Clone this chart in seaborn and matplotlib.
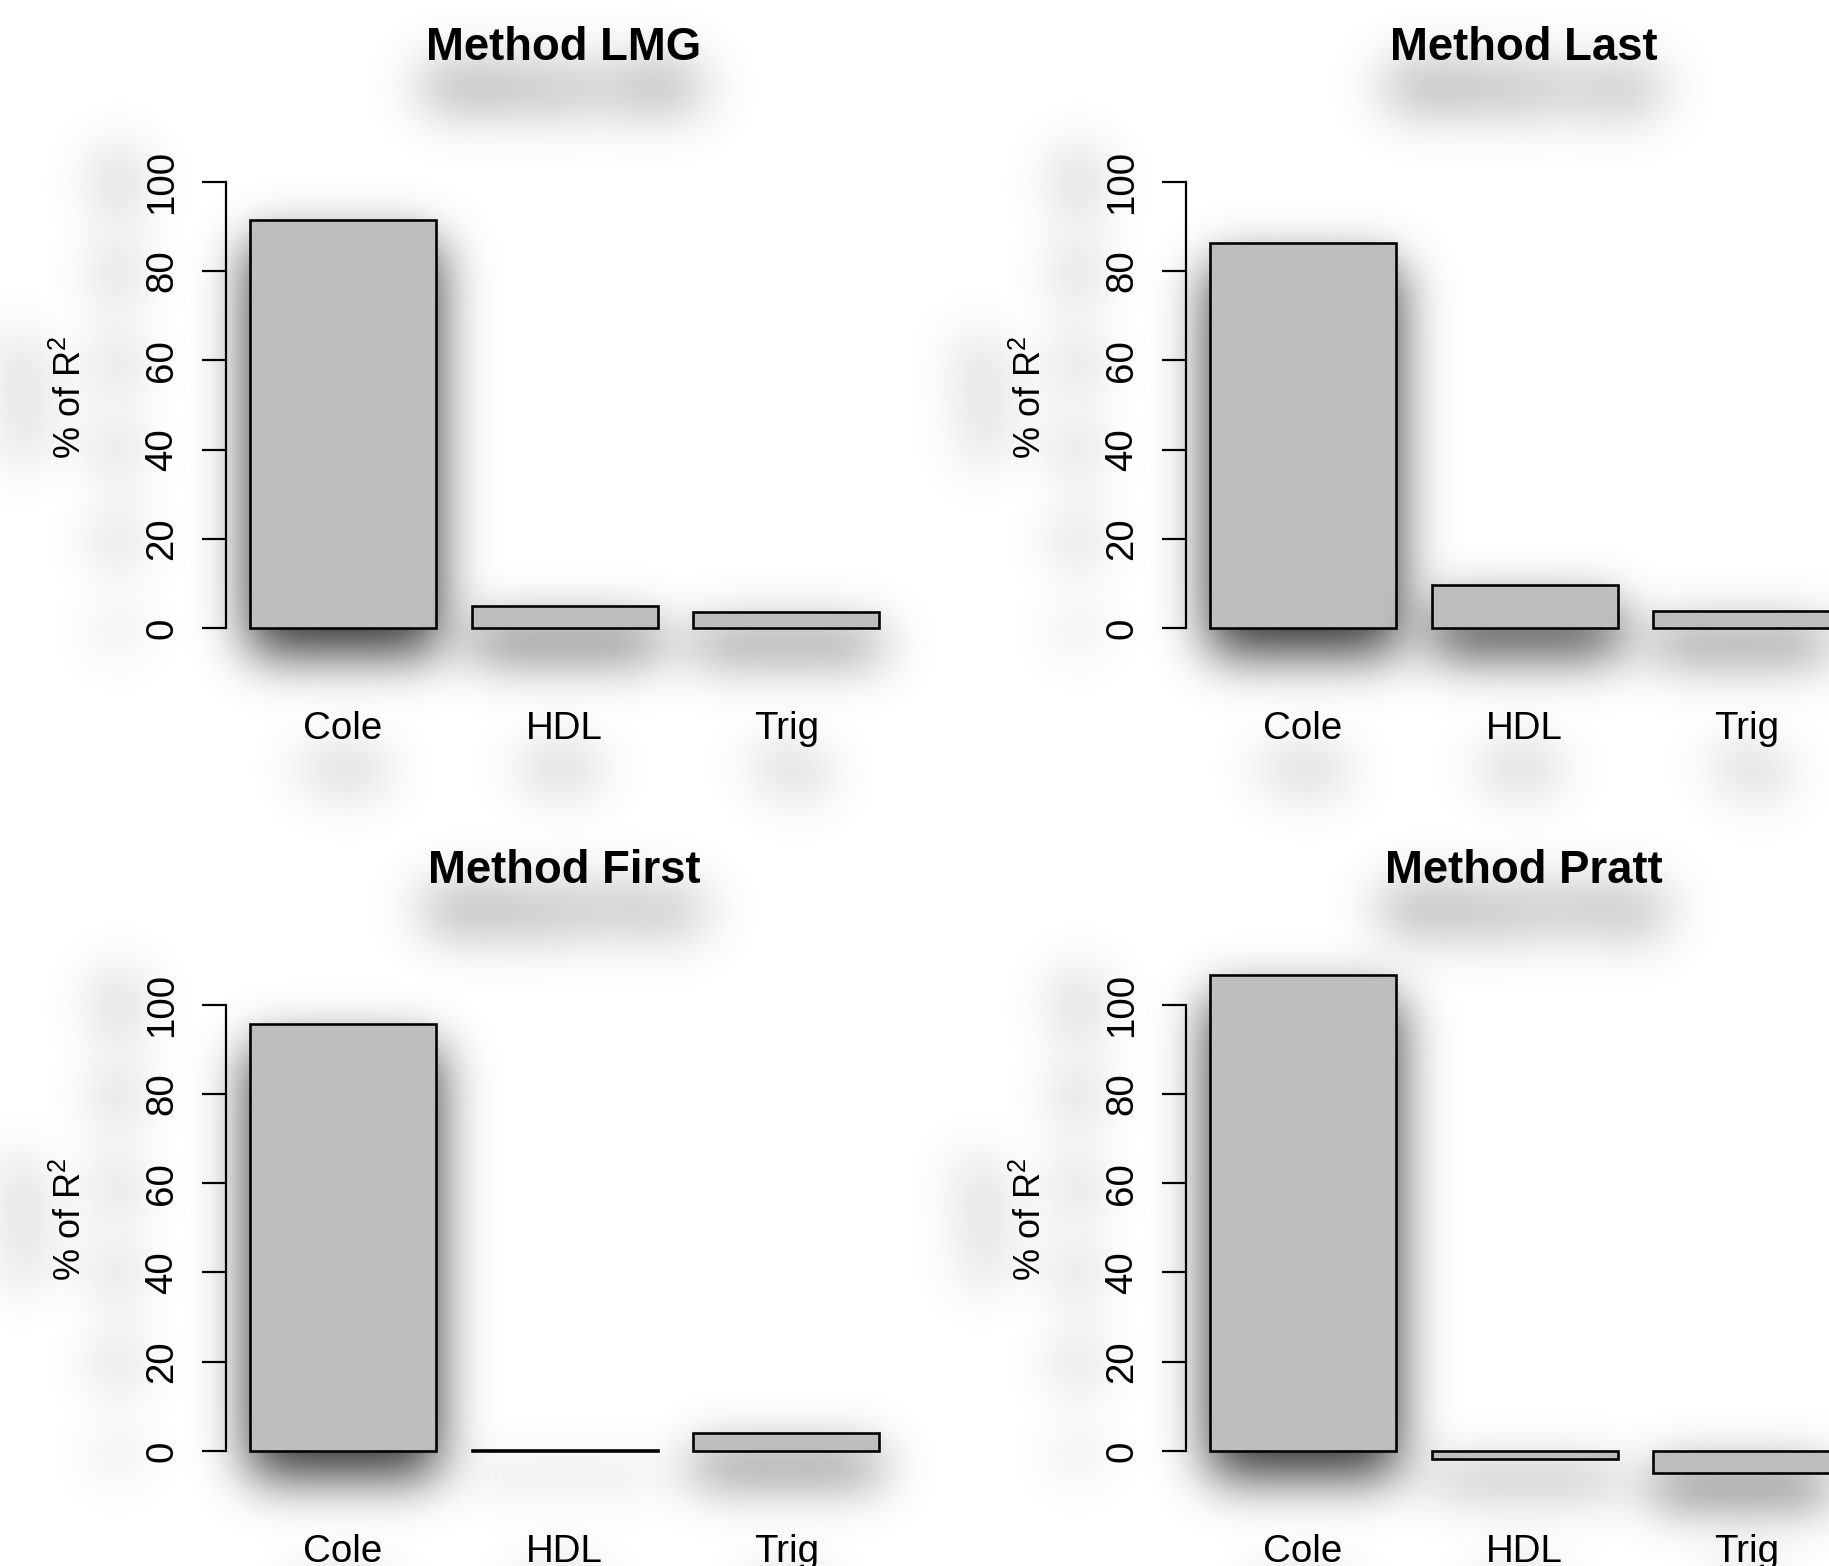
import numpy as np
import matplotlib
matplotlib.use("Agg")
import matplotlib.pyplot as plt
import seaborn as sns

# ---------------- data ----------------
methods = ["LMG", "Last", "First", "Pratt"]
categories = ["Cole", "HDL", "Trig"]
lmg = [91.4, 4.9, 3.7]
last = [86.2, 9.8, 3.8]
first = [95.6, 0.2, 4.0]
pratt = [106.5, -1.7, -4.9]
yticks = [0, 20, 40, 60, 80, 100]
ylabel_text = "% of R$^2$"

values = {"LMG": lmg, "Last": last, "First": first, "Pratt": pratt}

# ---------------- style ----------------
sns.set_theme(style="white")
plt.rcParams['font.family'] = ['Liberation Sans', 'DejaVu Sans']
plt.rcParams['mathtext.fontset'] = 'custom'
plt.rcParams['mathtext.rm'] = 'Liberation Sans'
plt.rcParams['mathtext.it'] = 'Liberation Sans'
plt.rcParams['mathtext.bf'] = 'Liberation Sans:bold'
plt.rcParams['mathtext.default'] = 'regular'


# ---------------- soft drop shadow (agg filter) ----------------
def _blur1d(a, w, axis):
    r = (len(w) - 1) // 2
    n = a.shape[axis]
    pad = [(0, 0)] * a.ndim
    pad[axis] = (r, r)
    p = np.pad(a, pad)
    out = np.zeros_like(a)
    for i, wi in enumerate(w):
        sl = [slice(None)] * a.ndim
        sl[axis] = slice(i, i + n)
        out += wi * p[tuple(sl)]
    return out


def _gblur(a, sigma):
    r = int(3 * sigma)
    x = np.arange(-r, r + 1)
    w = np.exp(-x ** 2 / (2.0 * sigma ** 2))
    w /= w.sum()
    return _blur1d(_blur1d(a, w, 0), w, 1)


class Shadow:
    def __init__(self, dx, dy, sigma, alpha, color=(0, 0, 0)):
        self.dx, self.dy, self.sigma, self.alpha = int(dx), int(dy), sigma, alpha
        self.color = np.array(color, dtype=float)

    def __call__(self, im, dpi):
        pad = int(abs(self.dx) + abs(self.dy) + 3 * self.sigma + 4)
        h, w = im.shape[:2]
        P = np.zeros((h + 2 * pad, w + 2 * pad, 4))
        P[pad:pad + h, pad:pad + w] = im
        a = P[..., 3]
        s = np.roll(a, (self.dy, self.dx), axis=(0, 1))
        s = np.clip(_gblur(s, self.sigma) * self.alpha, 0, 1)
        out_a = a + s * (1 - a)
        rgb = P[..., :3] * a[..., None] + self.color * (s * (1 - a))[..., None]
        rgb = rgb / np.maximum(out_a, 1e-9)[..., None]
        out = np.dstack([rgb, out_a])
        return np.clip(out, 0, 1), -pad, -pad


# ---------------- layout ----------------
W, H, DPI = 1829, 1566, 72
fig = plt.figure(figsize=(W / DPI, H / DPI), dpi=DPI, facecolor='white')

col_dx = 960
row_dy = 822.7
ax_left, ax_right = 226, 902
ax_top, ax_bottom = 130, 690
xlim = (-0.5277, 2.521)
ylim = (-13.8, 111.6)

bar_color = "#BEBEBE"
tick_fs = 38.5
title_fs = 45.5
ylab_fs = 36

bar_shadow = dict(dx=0, dy=24, sigma=26, alpha=0.8)
title_shadow = dict(dx=0, dy=42, sigma=28, alpha=0.95)
text_shadow_h = dict(dx=0, dy=42, sigma=28, alpha=1.0)
text_shadow_v = dict(dx=-42, dy=0, sigma=28, alpha=1.0)

for idx, m in enumerate(methods):
    r, c = divmod(idx, 2)
    L = ax_left + c * col_dx
    R = ax_right + c * col_dx
    T = ax_top + r * row_dy
    B = ax_bottom + r * row_dy
    ax = fig.add_axes([L / W, 1 - B / H, (R - L) / W, (B - T) / H])
    ax.set_facecolor('none')

    sns.barplot(x=categories, y=values[m], ax=ax, color=bar_color,
                edgecolor='black', linewidth=2.6, width=0.839,
                saturation=1, errorbar=None, zorder=2)

    ax.set_xlim(*xlim)
    ax.set_ylim(*ylim)
    sns.despine(ax=ax, top=True, right=True, bottom=True, left=False)
    ax.spines['left'].set_bounds(0, 100)
    ax.spines['left'].set_linewidth(2.2)
    ax.spines['left'].set_color('black')

    ax.set_yticks(yticks)
    ax.set_yticklabels([str(t) for t in yticks], rotation=90, va='center')
    ax.tick_params(axis='y', length=24, width=2.2, pad=22, labelsize=tick_fs,
                   colors='black', left=True)
    ax.tick_params(axis='x', length=0, pad=21, labelsize=tick_fs, colors='black')
    ax.set_xlabel('')
    ax.set_ylabel(ylabel_text, fontsize=ylab_fs, color='black')
    ax.yaxis.set_label_coords(-0.202, 0.523)
    ax.set_title(f"Method {m}", fontsize=title_fs, fontweight='bold',
                 pad=70, color='black')

    # shadows
    for p in ax.patches:
        p.set_agg_filter(Shadow(**bar_shadow))
    ax.title.set_agg_filter(Shadow(**title_shadow))
    for t in ax.get_xticklabels():
        t.set_agg_filter(Shadow(**text_shadow_h))
    for t in ax.get_yticklabels():
        t.set_agg_filter(Shadow(**text_shadow_v))
    ax.yaxis.label.set_agg_filter(Shadow(**text_shadow_v))

fig.savefig("out.png", dpi=DPI, facecolor='white')
